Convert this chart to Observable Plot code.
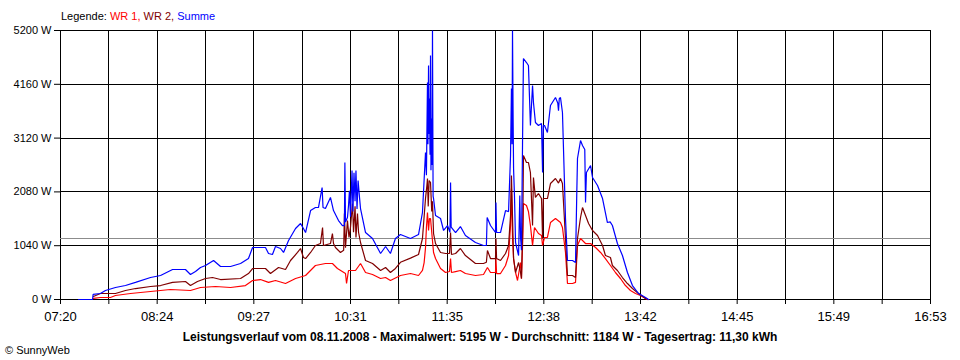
<!DOCTYPE html>
<html>
<head>
<meta charset="utf-8">
<script src="https://cdn.jsdelivr.net/npm/d3@7"></script>
<script src="https://cdn.jsdelivr.net/npm/@observablehq/plot@0.6"></script>
<style>
  html, body { margin: 0; padding: 0; background: #fff; overflow: hidden; }
  #wrap { position: relative; width: 960px; height: 360px; font-family: "Liberation Sans", Arial, sans-serif; color: #000; }
  #legend { position: absolute; left: 61px; top: 10px; font-size: 11px; line-height: 13px; white-space: pre; }
  #title { position: absolute; left: 0; width: 960px; top: 330px; text-align: center; font-size: 12px; font-weight: bold; line-height: 14px; }
  #caption { position: absolute; left: 5px; top: 344px; font-size: 11px; line-height: 13px; }
  #chart { position: absolute; left: 0; top: 0; }
</style>
</head>
<body>
<div id="wrap">
  <div id="chart"></div>
  <div id="legend"></div>
  <div id="title"></div>
  <div id="caption"></div>
</div>
<script>
// ---- Data (time in minutes since midnight, power in W) ----
const xTickLabels = ["07:20","08:24","09:27","10:31","11:35","12:38","13:42","14:45","15:49","16:53"];
const yTicks = [0, 1040, 2080, 3120, 4160, 5200];
const averageW = 1184;

const seriesNames = ["WR 1", "WR 2", "Summe"];
const seriesColors = ["#ff0000", "#800000", "#0000ff"];

const wr1Minutes = [461.7,466.3,472.9,476.2,486.1,499.3,512.4,525.6,532.2,542.1,552.0,561.8,566.5,571.7,577.0,581.6,588.2,594.8,601.4,607.9,614.5,619.1,622.4,627.7,628.4,629.7,634.3,637.6,640.9,645.5,650.8,654.1,657.3,663.9,670.5,675.8,678.4,679.5,680.4,681.0,681.7,682.4,683.0,683.7,684.5,685.7,687.0,690.3,693.6,696.2,696.9,697.5,700.2,703.4,706.7,713.3,718.6,721.2,723.2,726.5,726.8,727.2,729.8,733.1,735.1,736.4,737.0,737.7,738.4,739.7,741.0,743.0,743.6,744.5,744.9,746.9,748.2,749.5,750.9,752.2,754.8,756.8,757.5,758.8,760.7,762.7,766.0,769.3,770.6,772.6,773.9,777.2,779.2,780.5,782.5,785.8,789.1,792.4,795.7,798.9,802.2,805.5,808.8,812.1,815.4,818.7,822.0,825.3,826.5];
const wr1Watts   = [20,39,39,77,116,155,193,174,232,251,232,270,367,386,330,367,309,406,464,657,696,696,599,502,309,561,561,696,522,483,406,425,367,464,502,464,561,715,1000,1392,1682,1334,1566,1566,1300,909,792,599,522,541,792,522,540,561,502,464,483,619,522,522,792,502,502,657,850,1430,2146,1200,792,522,367,715,400,1200,1855,1817,1700,1430,1044,1392,1276,1237,1044,1199,1199,1488,1566,1488,1392,909,309,309,330,1044,1179,1082,1082,1005,909,792,657,522,406,270,174,116,77,19,0];

const wr2Minutes = [461.7,466.3,472.9,476.2,482.8,489.4,499.3,505.9,513.8,522.3,525.6,530.2,535.5,540.1,545.4,558.6,563.8,566.5,575.0,578.3,583.6,588.2,591.5,596.1,598.1,600.0,601.4,604.7,607.9,611.2,612.6,613.2,617.8,619.1,619.8,621.1,624.4,626.5,627.0,627.7,629.0,630.0,631.0,632.3,633.0,634.0,634.6,635.6,636.3,637.6,640.9,645.5,650.8,654.1,657.3,660.6,663.9,670.5,675.8,678.4,680.4,681.3,681.7,682.2,682.8,683.7,684.5,685.0,685.7,687.0,690.3,693.6,696.2,696.9,697.5,700.2,703.4,706.7,713.3,718.6,720.5,721.2,723.2,726.5,726.8,727.2,729.8,733.1,735.1,736.4,737.0,737.7,738.4,739.7,741.7,743.0,743.6,744.5,744.9,746.9,748.2,749.5,750.9,751.5,752.8,754.8,756.8,757.5,758.0,760.7,762.7,766.0,768.0,769.3,770.6,772.6,773.9,777.2,779.2,780.5,782.5,783.8,785.8,787.8,790.4,793.7,797.0,798.9,802.2,803.5,806.8,810.1,813.4,816.7,820.7,825.3,827.0];
const wr2Watts   = [58,116,116,116,174,212,251,270,330,348,270,348,406,425,386,406,502,599,599,502,619,580,754,909,986,812,792,909,1044,1082,1392,1044,1082,1276,1082,1005,909,950,1662,1000,1527,1200,1400,1855,1300,1800,1200,1662,1300,1102,754,696,561,619,522,600,720,800,870,1179,1952,2200,2339,1800,2300,2262,1700,1900,1276,1082,909,889,889,1295,870,889,986,850,696,696,720,947,792,792,1179,792,754,889,1044,1624,2397,1600,792,522,715,522,406,1500,2784,2648,2648,2455,1430,2358,1972,2049,1952,1179,1952,1952,2242,2339,2250,2339,2242,1179,464,464,425,1179,1585,1778,1624,1469,1334,1237,1044,850,812,657,561,425,309,212,116,19,0];

const sumMinutes = [451.9,461.1,461.5,466.3,469.6,476.2,482.8,489.4,499.3,505.9,513.8,522.3,525.6,528.9,532.2,535.5,540.8,545.4,552.0,558.6,563.8,566.5,571.7,575.0,577.0,579.6,581.6,584.9,586.9,590.2,594.8,598.1,600.0,601.4,604.7,607.9,609.9,612.3,612.9,614.5,617.8,619.8,623.1,625.7,627.0,627.3,627.7,629.0,629.7,630.3,631.0,632.0,632.6,633.3,634.0,634.6,635.3,636.0,637.0,637.6,640.9,645.5,650.8,654.1,657.3,660.6,663.9,670.5,675.8,678.4,680.4,681.0,681.7,682.0,682.4,682.7,683.0,683.4,683.7,684.0,684.3,684.7,685.0,685.4,685.7,687.0,690.3,692.3,694.9,696.5,696.9,697.3,700.2,703.4,706.7,713.3,718.6,720.5,721.0,723.2,726.5,726.8,727.2,729.8,733.1,735.1,736.4,737.0,737.4,737.7,738.1,738.4,739.0,739.7,741.7,742.5,743.0,743.6,744.3,744.9,746.9,748.2,749.5,750.9,751.5,752.8,754.8,756.8,757.5,758.0,758.8,760.7,762.7,766.0,767.5,768.0,768.5,769.3,770.6,772.6,773.9,777.2,779.2,780.0,780.5,782.5,783.8,785.3,785.8,786.4,789.1,790.4,793.7,797.0,800.2,802.0,803.5,806.8,810.1,813.4,816.7,820.7,825.3,827.3];
const sumWatts   = [0,0,100,116,174,232,270,330,425,464,580,580,483,541,619,657,754,638,638,696,792,1005,1005,1005,889,870,1025,986,909,1140,1372,1469,1372,1295,1720,1778,1778,2165,1778,1759,1972,1720,1527,1430,1430,2648,1500,1585,1817,2100,1600,2494,1700,2450,1900,2494,1750,2300,1950,1759,1295,1179,889,1025,889,1179,1256,1179,1256,1682,2842,2400,4195,3000,4523,3200,3885,2800,4717,2500,3500,2600,5200,2000,1952,1624,1566,1334,1430,1300,2262,1400,1295,1411,1237,1102,1044,1044,1585,1430,1295,1875,1295,1295,1720,1700,2784,4079,3000,5200,3500,2532,2000,1102,850,2010,1200,952,3000,4659,4581,4523,3363,4137,3808,3422,3363,3400,2455,3363,3363,3228,3750,3905,3800,3650,3880,3905,3615,1566,754,754,715,2000,2726,3073,2977,2900,1875,2455,2590,2358,2204,1952,1488,1500,1430,1082,850,522,270,116,39,0];

// ---- Build table ----
const toMin = s => { const [h, m] = s.split(":").map(Number); return h * 60 + m; };
const xStart = toMin(xTickLabels[0]);
const xEnd = toMin(xTickLabels[xTickLabels.length - 1]);
const nLabels = xTickLabels.length - 1;           // 9 labelled intervals
const gridCount = nLabels * 2;                    // gridline every half interval
const gridX = d3.range(gridCount + 1).map(i => xStart + i * (xEnd - xStart) / gridCount);

const rows = [];
[[wr1Minutes, wr1Watts], [wr2Minutes, wr2Watts], [sumMinutes, sumWatts]].forEach(([ts, ws], k) => {
  ts.forEach((t, i) => rows.push({series: seriesNames[k], t, w: ws[i]}));
});

const chart = Plot.plot({
  width: 960,
  height: 360,
  marginLeft: 60,
  marginRight: 30,
  marginTop: 30,
  marginBottom: 61,
  style: {fontFamily: "Liberation Sans, Arial, sans-serif", fontSize: "11px", background: "#fff", color: "#000"},
  x: {type: "linear", domain: [xStart, xEnd]},
  y: {domain: [0, 5200]},
  color: {domain: seriesNames, range: seriesColors},
  marks: [
    Plot.ruleX(gridX, {stroke: "#000", strokeWidth: 1, shapeRendering: "crispEdges"}),
    Plot.ruleY(yTicks, {stroke: "#000", strokeWidth: 1, shapeRendering: "crispEdges"}),
    Plot.ruleY([averageW], {stroke: "#8c8c8c", strokeWidth: 1, shapeRendering: "crispEdges"}),
    Plot.line(rows, {x: "t", y: "w", z: "series", stroke: "series", strokeWidth: 1.2, strokeLinejoin: "miter"}),
    Plot.axisY({ticks: yTicks, tickSize: 6, tickPadding: 3, tickFormat: d => `${d} W`, label: null, fontSize: 11}),
    Plot.axisX({ticks: gridX, tickSize: 5, tickPadding: 7, label: null,
      tickFormat: (d, i) => (i % 2 === 0 ? xTickLabels[i / 2] : ""),
      fontFamily: "Liberation Sans Narrow, Liberation Sans, Arial, sans-serif", fontSize: 13})
  ]
});
document.getElementById("chart").appendChild(chart);

// ---- Legend, title, caption ----
const legend = document.getElementById("legend");
legend.append("Legende: ");
seriesNames.forEach((n, i) => {
  const s = document.createElement("span");
  s.style.color = seriesColors[i];
  s.textContent = n + (i < seriesNames.length - 1 ? ", " : "");
  legend.appendChild(s);
});
document.getElementById("title").textContent =
  "Leistungsverlauf vom 08.11.2008 - Maximalwert: 5195 W - Durchschnitt: 1184 W - Tagesertrag: 11,30 kWh";
document.getElementById("caption").textContent = "© SunnyWeb";
</script>
</body>
</html>
